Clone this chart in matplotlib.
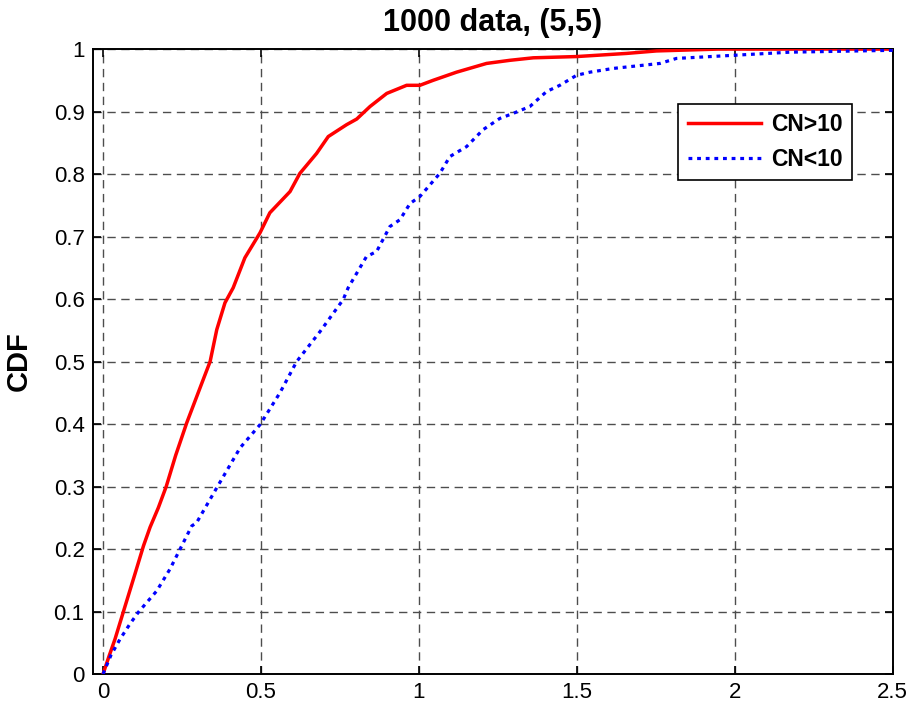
import matplotlib
matplotlib.use("Agg")
import matplotlib.pyplot as plt

plt.rcParams['font.family'] = ['Liberation Sans', 'DejaVu Sans']

# empirical CDF, CN > 10 (x, cdf)
cn_hi_x = [0, 0.02, 0.038, 0.064, 0.101, 0.128, 0.149, 0.175, 0.2, 0.23,
           0.265, 0.317, 0.339, 0.36, 0.386, 0.412, 0.449, 0.497, 0.528, 0.592,
           0.623, 0.676, 0.713, 0.771, 0.803, 0.845, 0.898, 0.961, 1.003, 1.045,
           1.119, 1.214, 1.288, 1.362, 1.499, 1.657, 1.752, 1.95, 2.5]
cn_hi_y = [0, 0.03, 0.056, 0.099, 0.16, 0.205, 0.235, 0.266, 0.3, 0.35,
           0.402, 0.471, 0.5, 0.551, 0.594, 0.618, 0.666, 0.706, 0.738, 0.772,
           0.801, 0.833, 0.86, 0.879, 0.888, 0.908, 0.929, 0.942, 0.942, 0.95,
           0.963, 0.977, 0.982, 0.986, 0.988, 0.993, 0.997, 1.0, 1.0]

# empirical CDF, CN < 10
cn_lo_x = [0, 0.025, 0.054, 0.085, 0.112, 0.17, 0.212, 0.244, 0.281, 0.296,
           0.36, 0.434, 0.497, 0.56, 0.613, 0.687, 0.76, 0.776, 0.834, 0.866,
           0.908, 0.94, 0.972, 1.003, 1.066, 1.098, 1.151, 1.203, 1.256, 1.298,
           1.351, 1.404, 1.446, 1.499, 1.541, 1.615, 1.763, 1.815, 1.995, 2.174, 2.5]
cn_lo_y = [0, 0.03, 0.056, 0.08, 0.099, 0.133, 0.168, 0.2, 0.237, 0.242,
           0.298, 0.362, 0.399, 0.45, 0.5, 0.548, 0.599, 0.618, 0.668, 0.676,
           0.716, 0.727, 0.753, 0.764, 0.801, 0.828, 0.844, 0.871, 0.889, 0.897,
           0.908, 0.932, 0.942, 0.958, 0.963, 0.969, 0.977, 0.985, 0.99, 0.995, 0.998]

xticks = [0, 0.5, 1, 1.5, 2, 2.5]
yticks = [0, 0.1, 0.2, 0.3, 0.4, 0.5, 0.6, 0.7, 0.8, 0.9, 1]

fig = plt.figure(figsize=(9.11, 7.11), dpi=100)
ax = fig.add_axes([0.102, 0.052, 0.878, 0.879])

ax.plot(cn_hi_x, cn_hi_y, color='red', lw=2.5, label='CN>10', zorder=3)
ax.plot(cn_lo_x, cn_lo_y, color='blue', lw=2.3, linestyle=(0, (1.2, 1.5)),
        label='CN<10', zorder=3)

ax.set_xlim(-0.032, 2.5)
ax.set_ylim(0, 1)
ax.set_xticks(xticks)
ax.set_xticklabels(['0', '0.5', '1', '1.5', '2', '2.5'])
ax.set_yticks(yticks)
ax.set_yticklabels(['0', '0.1', '0.2', '0.3', '0.4', '0.5', '0.6', '0.7', '0.8', '0.9', '1'])

ax.grid(True, color='0.3', linestyle=(0, (6, 4)), linewidth=1)
ax.tick_params(direction='in', length=6, width=1.2, labelsize=16,
               top=True, right=True, pad=6)
for s in ax.spines.values():
    s.set_linewidth(1.4)

ax.set_title('1000 data, (5,5)', fontsize=22, fontweight='bold', pad=13)
ax.set_ylabel('CDF', fontsize=21, fontweight='bold')
ax.yaxis.set_label_coords(-0.075, 0.5)

leg = ax.legend(loc='upper right', bbox_to_anchor=(0.949, 0.912), borderaxespad=0,
                fancybox=False, framealpha=1, edgecolor='black',
                prop={'size': 16.5, 'weight': 'bold'},
                handlelength=3.2, handletextpad=0.45, labelspacing=0.5,
                borderpad=0.4)
leg.get_frame().set_linewidth(1.2)

fig.savefig('out.png', dpi=100)
